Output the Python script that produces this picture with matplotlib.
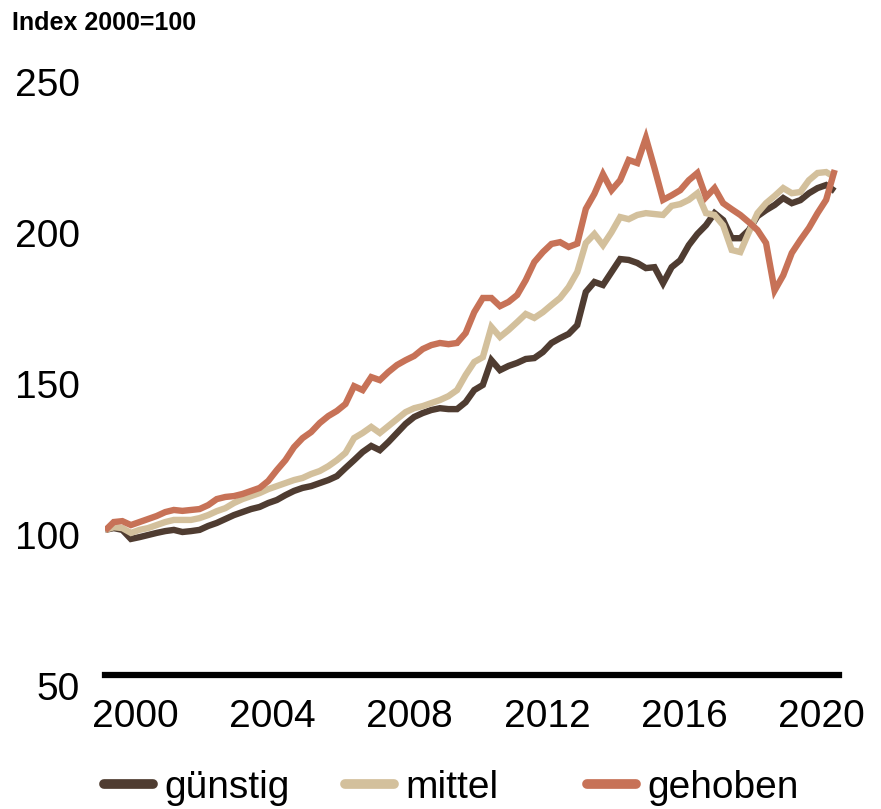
import numpy as np
import pandas as pd
import matplotlib
matplotlib.use("Agg")
import matplotlib.pyplot as plt
from matplotlib.lines import Line2D

plt.rcParams["font.family"] = ["Liberation Sans", "DejaVu Sans"]

quarters = pd.period_range("1999Q1", "2020Q2", freq="Q")
years = quarters.year + (quarters.quarter - 0.5) / 4

guenstig = [
    101.7, 102.3, 101.7, 98.7, 99.3, 100.0, 100.7, 101.3, 101.7, 101.0,
    101.3, 101.7, 103.0, 104.0, 105.3, 106.6, 107.6, 108.6, 109.3, 110.6,
    111.6, 113.2, 114.6, 115.6, 116.2, 117.2, 118.2, 119.5, 122.2, 124.8,
    127.5, 129.5, 128.1, 130.8, 133.8, 136.8, 139.1, 140.4, 141.4, 142.0,
    141.7, 141.7, 144.0, 148.0, 149.7, 157.9, 154.6, 156.0, 157.0, 158.3,
    158.6, 160.6, 163.6, 165.2, 166.6, 169.5, 180.5, 183.8, 182.8, 187.1,
    191.4, 191.1, 190.1, 188.4, 188.7, 183.4, 188.7, 191.0, 196.0, 199.7,
    202.6, 206.6, 204.3, 198.3, 198.3, 201.0, 205.6, 207.6, 209.3, 211.6,
    209.9, 210.9, 213.2, 214.9, 215.9, 213.9,
]
mittel = [
    101.7, 102.6, 102.3, 100.7, 101.7, 102.3, 103.3, 104.3, 105.0, 105.0,
    105.0, 105.6, 106.6, 107.9, 108.9, 110.6, 111.9, 112.9, 113.9, 115.2,
    116.2, 117.2, 118.2, 118.9, 120.2, 121.2, 122.8, 124.8, 127.2, 132.1,
    133.8, 135.8, 133.8, 136.1, 138.4, 140.7, 142.0, 142.7, 143.7, 144.7,
    146.0, 148.0, 153.0, 157.3, 158.9, 168.9, 165.6, 167.9, 170.5, 173.2,
    171.9, 173.8, 176.2, 178.5, 182.1, 187.1, 196.7, 199.7, 196.0, 200.3,
    205.3, 204.6, 206.0, 206.6, 206.3, 206.0, 209.0, 209.6, 211.0, 213.2,
    206.6, 206.0, 202.6, 194.4, 193.7, 200.3, 206.6, 209.9, 212.3, 214.9,
    213.2, 213.6, 217.5, 219.9, 220.2, 218.5,
]
gehoben = [
    101.5, 104.3, 104.6, 103.3, 104.3, 105.3, 106.3, 107.6, 108.3, 108.0,
    108.3, 108.6, 109.9, 111.9, 112.6, 112.9, 113.6, 114.6, 115.6, 117.9,
    121.5, 124.8, 129.1, 132.1, 134.1, 137.1, 139.4, 141.1, 143.4, 149.3,
    148.0, 152.3, 151.3, 154.0, 156.3, 157.9, 159.3, 161.6, 162.9, 163.6,
    163.2, 163.6, 166.9, 173.8, 178.5, 178.5, 175.8, 177.2, 179.5, 184.4,
    190.4, 193.7, 196.4, 197.0, 195.4, 196.5, 208.0, 213.0, 219.5, 214.2,
    217.5, 224.2, 223.2, 231.5, 221.5, 211.0, 212.5, 214.2, 217.5, 219.9,
    211.9, 214.9, 209.9, 207.9, 206.0, 203.6, 201.0, 196.7, 181.0, 186.0,
    193.4, 197.7, 201.7, 206.6, 211.0, 220.9,
]

series = [("günstig", guenstig, "#4f3c31"),
          ("mittel", mittel, "#d3c09c"),
          ("gehoben", gehoben, "#c77257")]
year_ticks = [2000, 2004, 2008, 2012, 2016, 2020]
value_ticks = [50, 100, 150, 200, 250]

fig = plt.figure(figsize=(8.81, 8.09), dpi=100)
ax = fig.add_axes([105 / 881, 1 - 686 / 809, 734 / 881, 619 / 809])

for name, values, color in series:
    ax.plot(years, values, color=color, linewidth=4.6, label=name,
            solid_joinstyle="miter", solid_capstyle="butt")

ax.set_xlim(1999.12, 2020.5)
ax.set_ylim(50, 255)
ax.set_xticks(year_ticks)
ax.set_yticks(value_ticks)
ax.tick_params(axis="both", length=0, labelsize=28)
ax.tick_params(axis="x", pad=17)
ax.tick_params(axis="y", pad=18)

for side in ["top", "right", "left"]:
    ax.spines[side].set_visible(False)
ax.spines["bottom"].set_position(("data", 53.5))
ax.spines["bottom"].set_linewidth(4.5)
ax.spines["bottom"].set_color("black")

fig.text(0.014, 1 - 11 / 809, "Index 2000=100", fontsize=18,
         fontweight="bold", va="top", ha="left")

legend_x = [104 / 881, 345 / 881, 587 / 881]
for (name, values, color), lx in zip(series, legend_x):
    handle = Line2D([], [], color=color, linewidth=7, solid_capstyle="round")
    fig.legend(handles=[handle], labels=[name], loc="center left",
               bbox_to_anchor=(lx, 1 - 788 / 809), frameon=False,
               fontsize=28, handlelength=1.25, handletextpad=0.3,
               borderpad=0, borderaxespad=0)

fig.savefig("out.png", dpi=100)
